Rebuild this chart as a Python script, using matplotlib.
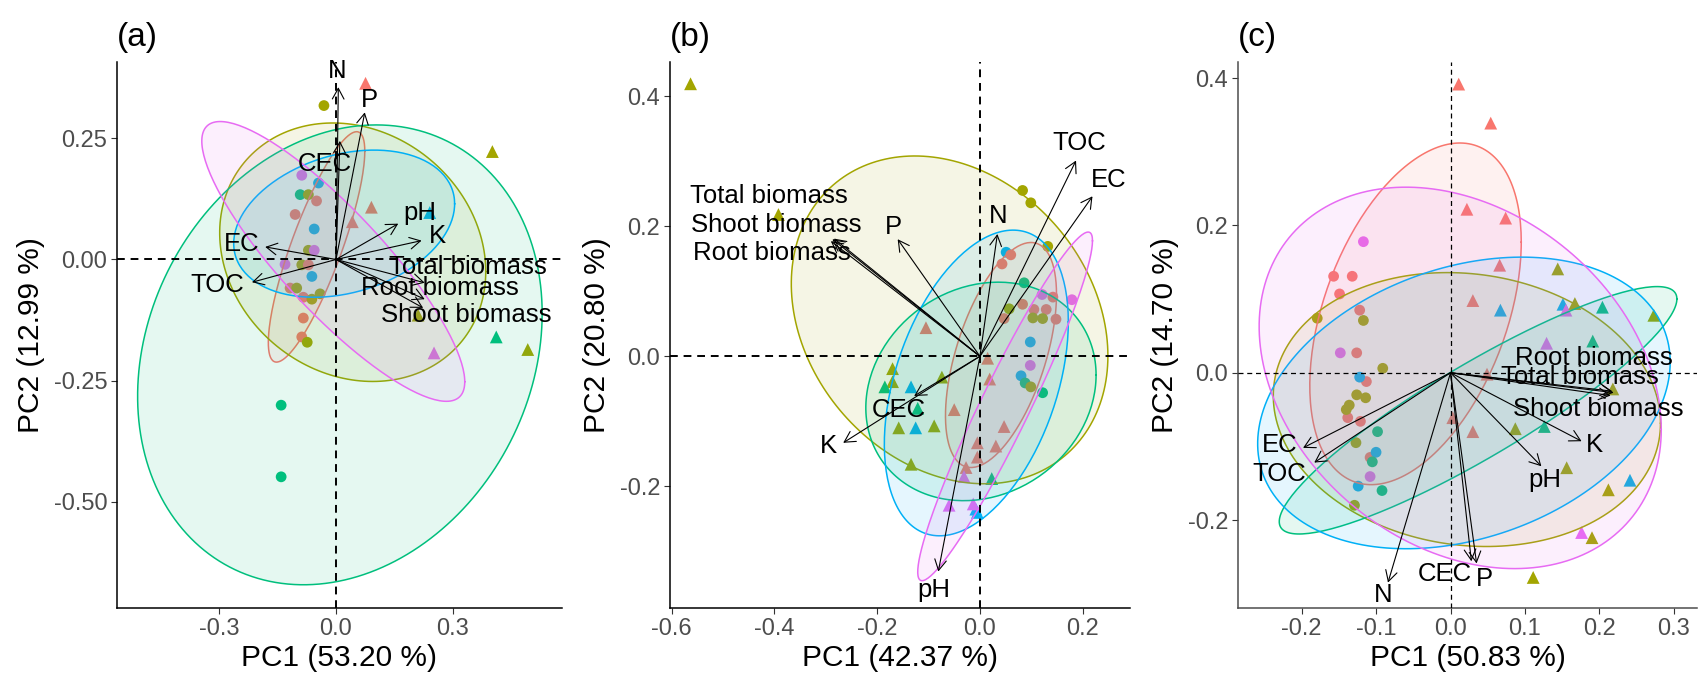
import numpy as np
import matplotlib
matplotlib.use("Agg")
import matplotlib.pyplot as plt

plt.rcParams["font.family"] = ["Liberation Sans", "DejaVu Sans"]
plt.rcParams["axes.unicode_minus"] = False

# ggplot default hue palette for the 5 groups
group_colors = ["#F8766D", "#A3A500", "#00BF7D", "#00B0F6", "#E76BF3"]

variables = ["N", "P", "CEC", "pH", "K", "EC", "TOC",
             "Total biomass", "Root biomass", "Shoot biomass"]

# ---------------- panel (a) ----------------
a_x = [0.076, -0.031, 0.402, 0.091, 0.042, 0.241, 0.412, 0.493, 0.252, 0.211,
       -0.141, -0.141, -0.088, -0.045, -0.092, -0.071, -0.050, -0.105, -0.056, -0.071,
       -0.056, -0.131, -0.088, -0.071, -0.062, -0.118, -0.101, -0.084, -0.062, -0.041,
       -0.084, -0.088, -0.074]
a_y = [0.364, 0.318, 0.223, 0.108, 0.078, 0.097, -0.160, -0.186, -0.193, -0.115,
       -0.301, -0.449, 0.174, 0.158, 0.134, 0.134, 0.121, 0.093, 0.063, 0.019,
       0.019, -0.010, -0.011, -0.011, -0.035, -0.059, -0.059, -0.078, -0.082, -0.071,
       -0.121, -0.160, -0.171]
a_grp = [0, 1, 1, 0, 0, 3, 2, 1, 4, 1,
         2, 2, 4, 3, 2, 1, 0, 0, 3, 1,
         4, 4, 1, 0, 3, 0, 1, 0, 1, 1,
         0, 0, 1]
a_shape = ["^", "o", "^", "^", "^", "^", "^", "^", "^", "^"] + ["o"] * 23

# ellipse centre, spread and correlation per group (red, olive, green, blue, pink)
a_ell_cx = [-0.050, 0.043, 0.010, 0.021, -0.007]
a_ell_cy = [0.026, 0.015, -0.197, 0.074, -0.004]
a_ell_sx = [0.124, 0.342, 0.520, 0.284, 0.338]
a_ell_sy = [0.238, 0.267, 0.475, 0.152, 0.289]
a_ell_rho = [0.83, -0.15, 0.18, 0.27, -0.86]

a_load_x = [0.006, 0.074, 0.010, 0.160, 0.220, -0.182, -0.216, 0.228, 0.228, 0.224]
a_load_y = [0.356, 0.304, 0.245, 0.074, 0.039, 0.026, -0.047, -0.048, -0.082, -0.100]
a_lab_x = [0.003, 0.085, -0.028, 0.215, 0.262, -0.242, -0.306, 0.339, 0.267, 0.335]
a_lab_y = [0.390, 0.330, 0.197, 0.097, 0.048, 0.033, -0.052, -0.015, -0.059, -0.115]

# ---------------- panel (b) ----------------
b_x = [-0.563, -0.392, -0.105, 0.015, 0.019, -0.050, 0.047, -0.005, 0.031, -0.005,
       -0.027, -0.170, -0.170, -0.074, -0.158, -0.089, -0.134, -0.185, 0.023, -0.121,
       -0.134, -0.125, -0.008, -0.005, -0.060, -0.013, -0.031,
       0.083, 0.099, 0.132, 0.051, 0.060, 0.043, 0.086, 0.121, 0.142, 0.179,
       0.057, 0.083, 0.105, 0.129, 0.103, 0.122, 0.148, 0.047, 0.098, 0.098,
       0.080, 0.088, 0.099, 0.122]
b_y = [0.419, 0.218, 0.044, -0.003, -0.035, -0.082, -0.108, -0.133, -0.138, -0.155,
       -0.171, -0.019, -0.039, -0.032, -0.110, -0.107, -0.166, -0.047, -0.188, -0.080,
       -0.047, -0.110, -0.235, -0.240, -0.229, -0.227, -0.185,
       0.255, 0.236, 0.169, 0.160, 0.156, 0.142, 0.113, 0.095, 0.091, 0.087,
       0.073, 0.080, 0.072, 0.072, 0.059, 0.058, 0.057, 0.058, 0.022, -0.014,
       -0.030, -0.041, -0.047, -0.056]
b_grp = [1, 1, 0, 0, 0, 0, 0, 0, 0, 0,
         0, 1, 1, 1, 1, 1, 1, 2, 2, 2,
         3, 3, 3, 3, 4, 4, 4,
         1, 1, 1, 3, 0, 0, 2, 4, 0, 4,
         1, 0, 0, 0, 1, 1, 0, 0, 3, 4,
         3, 2, 1, 2]
b_shape = ["^"] * 27 + ["o"] * 24

b_ell_cx = [0.041, -0.059, 0.002, -0.007, 0.049]
b_ell_cy = [0.002, 0.056, -0.054, -0.041, -0.077]
b_ell_sx = [0.108, 0.308, 0.224, 0.179, 0.170]
b_ell_sy = [0.173, 0.252, 0.168, 0.235, 0.268]
b_ell_rho = [0.54, -0.22, 0.15, 0.40, 0.95]

b_load_x = [0.034, -0.160, -0.128, -0.081, -0.266, 0.219, 0.187, -0.287, -0.290, -0.284]
b_load_y = [0.188, 0.180, -0.061, -0.331, -0.133, 0.246, 0.301, 0.180, 0.177, 0.181]
b_lab_x = [0.036, -0.169, -0.158, -0.089, -0.294, 0.251, 0.194, -0.410, -0.404, -0.397]
b_lab_y = [0.215, 0.199, -0.083, -0.359, -0.138, 0.271, 0.328, 0.246, 0.159, 0.202]

# ---------------- panel (c) ----------------
c_x = [0.011, 0.054, 0.022, 0.074, 0.066, 0.030, 0.049, 0.003, 0.030,
       0.067, 0.151, 0.241, 0.155, 0.129, 0.176,
       0.144, 0.167, 0.273, 0.218, 0.087, 0.156, 0.212, 0.190, 0.111,
       0.204, 0.191, 0.126,
       -0.117, -0.148, -0.108,
       -0.157, -0.132, -0.149, -0.122, -0.126, -0.113, -0.138, -0.121, -0.108,
       -0.179, -0.117, -0.091, -0.126, -0.114, -0.136, -0.140, -0.127, -0.129,
       -0.122, -0.100, -0.124, -0.098, -0.105, -0.092]
c_y = [0.392, 0.339, 0.222, 0.210, 0.146, 0.098, -0.002, -0.061, -0.080,
       0.085, 0.093, -0.146, 0.085, 0.040, -0.217,
       0.141, 0.094, 0.078, -0.022, -0.076, -0.129, -0.159, -0.224, -0.278,
       0.089, 0.043, -0.073,
       0.178, 0.027, -0.141,
       0.131, 0.131, 0.107, 0.085, 0.027, -0.012, -0.061, -0.066, -0.115,
       0.074, 0.071, 0.006, -0.030, -0.034, -0.044, -0.050, -0.095, -0.180,
       -0.006, -0.108, -0.154, -0.080, -0.121, -0.160]
c_grp = [0] * 9 + [3, 3, 3, 4, 4, 4] + [1] * 9 + [2, 2, 2] + [4, 4, 4] + [0] * 9 + [1] * 9 + [3, 3, 3, 2, 2, 2]
c_shape = ["^"] * 27 + ["o"] * 27

c_ell_cx = [-0.047, 0.022, 0.037, 0.018, 0.013]
c_ell_cy = [0.080, -0.050, -0.051, -0.041, -0.007]
c_ell_sx = [0.142, 0.260, 0.267, 0.277, 0.270]
c_ell_sy = [0.232, 0.186, 0.168, 0.198, 0.259]
c_ell_rho = [0.42, -0.10, 0.90, 0.28, -0.27]

c_load_x = [-0.084, 0.035, 0.028, 0.122, 0.176, -0.198, -0.183, 0.217, 0.219, 0.215]
c_load_y = [-0.285, -0.259, -0.256, -0.127, -0.093, -0.102, -0.122, -0.025, -0.027, -0.031]
c_lab_x = [-0.091, 0.046, -0.008, 0.127, 0.193, -0.230, -0.230, 0.174, 0.192, 0.199]
c_lab_y = [-0.302, -0.280, -0.274, -0.146, -0.098, -0.098, -0.137, -0.006, 0.020, -0.049]


panels = [
    dict(tag="(a)", x=a_x, y=a_y, grp=a_grp, shape=a_shape,
         ell=(a_ell_cx, a_ell_cy, a_ell_sx, a_ell_sy, a_ell_rho),
         load=(a_load_x, a_load_y), lab=(a_lab_x, a_lab_y),
         xlim=(-0.563, 0.581), ylim=(-0.72, 0.408),
         xticks=[-0.3, 0.0, 0.3], xfmt="{:.1f}",
         yticks=[-0.5, -0.25, 0.0, 0.25], yfmt="{:.2f}",
         xlabel="PC1 (53.20 %)", ylabel="PC2 (12.99 %)",
         left=117, right=562, spine="black", dash_lw=1.4),
    dict(tag="(b)", x=b_x, y=b_y, grp=b_grp, shape=b_shape,
         ell=(b_ell_cx, b_ell_cy, b_ell_sx, b_ell_sy, b_ell_rho),
         load=(b_load_x, b_load_y), lab=(b_lab_x, b_lab_y),
         xlim=(-0.603, 0.292), ylim=(-0.387, 0.4525),
         xticks=[-0.6, -0.4, -0.2, 0.0, 0.2], xfmt="{:.1f}",
         yticks=[-0.2, 0.0, 0.2, 0.4], yfmt="{:.1f}",
         xlabel="PC1 (42.37 %)", ylabel="PC2 (20.80 %)",
         left=670, right=1130, spine="black", dash_lw=1.4),
    dict(tag="(c)", x=c_x, y=c_y, grp=c_grp, shape=c_shape,
         ell=(c_ell_cx, c_ell_cy, c_ell_sx, c_ell_sy, c_ell_rho),
         load=(c_load_x, c_load_y), lab=(c_lab_x, c_lab_y),
         xlim=(-0.2854, 0.331), ylim=(-0.3195, 0.422),
         xticks=[-0.2, -0.1, 0.0, 0.1, 0.2, 0.3], xfmt="{:.1f}",
         yticks=[-0.2, 0.0, 0.2, 0.4], yfmt="{:.1f}",
         xlabel="PC1 (50.83 %)", ylabel="PC2 (14.70 %)",
         left=1238, right=1697, spine="#4D4D4D", dash_lw=0.9),
]

W, H = 1698, 674
fig = plt.figure(figsize=(W / 100, H / 100), dpi=100)
top_px, bottom_px = 62, 608
t = np.linspace(0, 2 * np.pi, 200)

for p in panels:
    ax = fig.add_axes([p["left"] / W, 1 - bottom_px / H,
                       (p["right"] - p["left"]) / W, (bottom_px - top_px) / H])

    # points
    for shp, size in (("o", 60), ("^", 85)):
        idx = [i for i, s in enumerate(p["shape"]) if s == shp]
        ax.scatter([p["x"][i] for i in idx], [p["y"][i] for i in idx],
                   c=[group_colors[p["grp"][i]] for i in idx], marker=shp,
                   s=size, linewidths=0, zorder=2)

    # confidence ellipses
    cx, cy, sx, sy, rho = p["ell"]
    for g in range(5):
        ex = cx[g] + sx[g] * np.cos(t)
        ey = cy[g] + sy[g] * (rho[g] * np.cos(t) + np.sqrt(1 - rho[g] ** 2) * np.sin(t))
        ax.fill(ex, ey, color=group_colors[g], alpha=0.1, lw=0, zorder=3)
        ax.plot(ex, ey, color=group_colors[g], lw=1.1, zorder=3)

    ax.axhline(0, color="black", ls=(0, (4, 3)), lw=p["dash_lw"], zorder=3.5)
    ax.axvline(0, color="black", ls=(0, (4, 3)), lw=p["dash_lw"], zorder=3.5)

    # loading arrows and labels
    lx, ly = p["load"]
    tx, ty = p["lab"]
    for k, name in enumerate(variables):
        ax.annotate("", xy=(lx[k], ly[k]), xytext=(0, 0),
                    arrowprops=dict(arrowstyle="->,head_length=0.55,head_width=0.3",
                                    lw=0.8, color="black", shrinkA=0, shrinkB=0,
                                    mutation_scale=14),
                    zorder=4)
        ax.text(tx[k], ty[k], name, fontsize=18.5, ha="center", va="center",
                color="black", zorder=5)

    ax.set_xlim(*p["xlim"])
    ax.set_ylim(*p["ylim"])
    ax.set_xticks(p["xticks"])
    ax.set_xticklabels([p["xfmt"].format(v) for v in p["xticks"]])
    ax.set_yticks(p["yticks"])
    ax.set_yticklabels([p["yfmt"].format(v) for v in p["yticks"]])
    ax.tick_params(labelsize=17, labelcolor="#4D4D4D", color="#333333",
                   length=4, width=0.8, pad=3)
    for side in ("top", "right"):
        ax.spines[side].set_visible(False)
    for side in ("left", "bottom"):
        ax.spines[side].set_color(p["spine"])
        ax.spines[side].set_linewidth(1.1)
    ax.set_xlabel(p["xlabel"], fontsize=21.5, labelpad=3)
    ax.set_ylabel(p["ylabel"], fontsize=21.5, labelpad=6)
    ax.text(0.0, 1.03, p["tag"], transform=ax.transAxes, fontsize=24,
            ha="left", va="baseline")

fig.savefig("out.png", dpi=100)
